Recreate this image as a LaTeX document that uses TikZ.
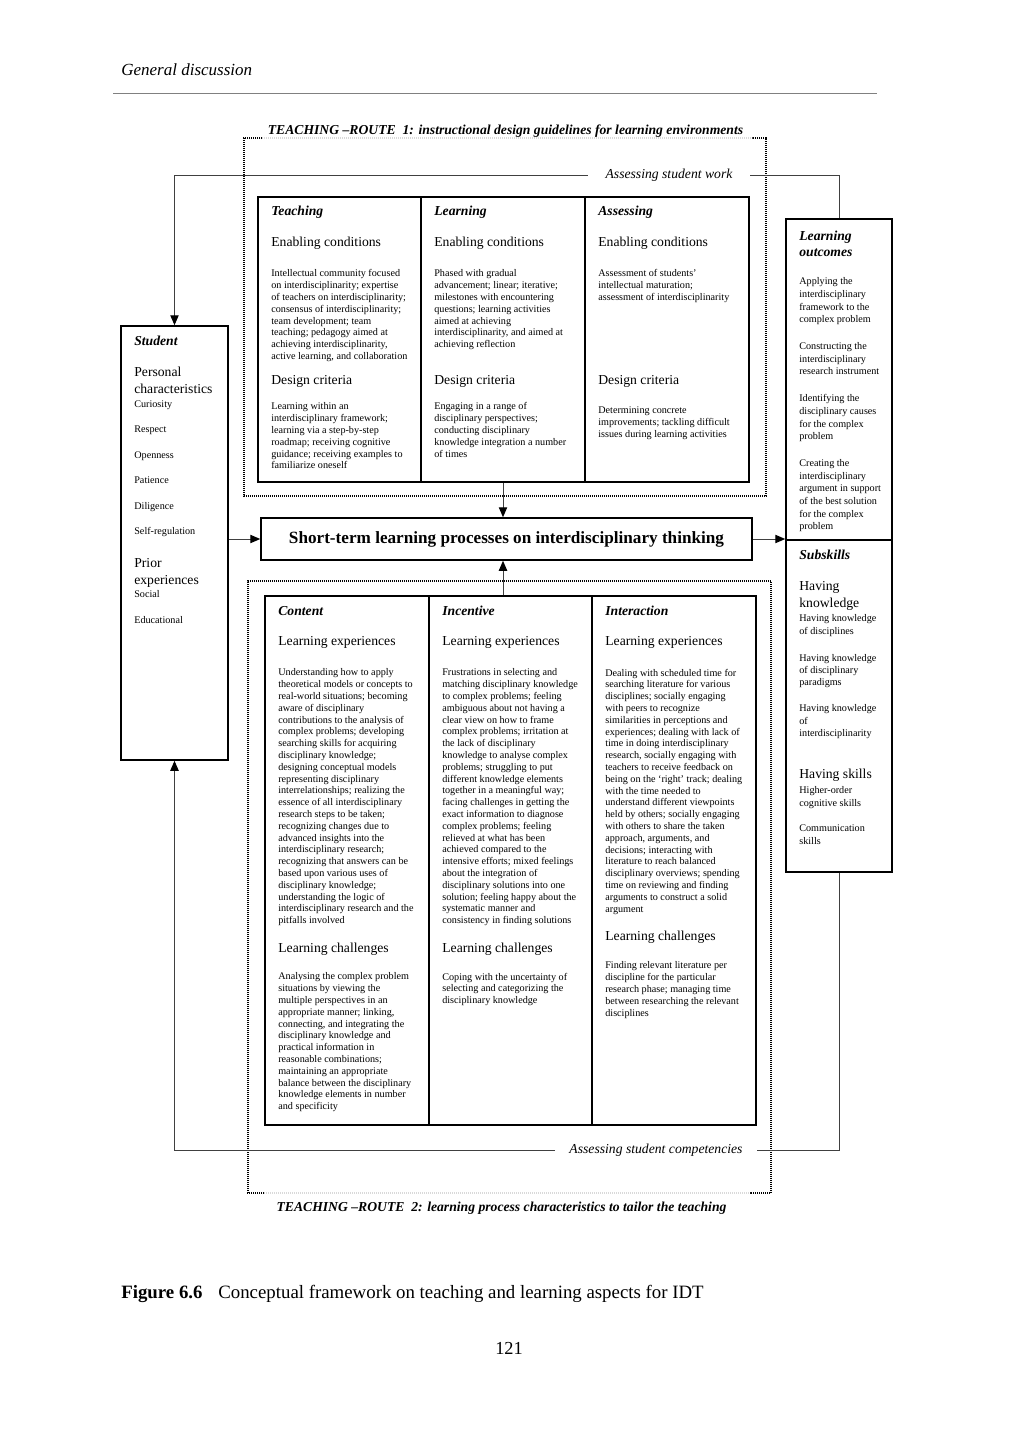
\documentclass[tikz,border=0pt]{standalone}
\usepackage{fontspec}
\setmainfont{Liberation Serif}
\usetikzlibrary{arrows.meta,fit}
\newcommand\fbody{\fontsize{6.1}{7.08}\selectfont}
\newcommand\fhead{\fontsize{8.2}{10.2}\selectfont}
\begin{document}
\begin{tikzpicture}[x=0.6pt,y=-0.6pt,
  bx/.style={draw, line width=0.9pt, inner sep=0pt},
  conn/.style={draw=black!75, line width=0.6pt},
  arr/.style={-{Triangle[length=6pt,width=5pt,color=black]}},
  ttl/.style={font=\fhead\bfseries\itshape, inner sep=0pt, anchor=west},
  hd/.style={font=\fhead, inner sep=0pt, anchor=west},
  bd/.style={font=\fbody, inner sep=0pt, anchor=north west, align=left},
  dots/.style={line width=0.7pt, dash pattern=on 0.6pt off 0.6pt},
  faint/.style={dots, draw=black!15},
  lbl/.style={font=\fhead\itshape, fill=white, inner ysep=2pt},
]
\useasboundingbox (0,0) rectangle (1018,1440);

% page header
\node[font=\fontsize{10.2}{12}\selectfont\itshape, inner sep=0pt, anchor=west] (hdr) at (121,70) {General discussion};
\draw[black!50, line width=0.5pt] (113,93) -- (877,93);

% dotted route frames
\draw[dots] (262,138) -- (244,138) -- (244,496) -- (766,496) -- (766,138) -- (752,138);
\draw[faint] (262,138) -- (752,138);
\draw[dots] (264,1193) -- (248,1193) -- (248,581) -- (771,581) -- (771,1193) -- (750,1193);
\draw[faint] (264,1193) -- (750,1193);
\node[font=\fhead\bfseries\itshape, inner sep=0pt] (r1) at (505.5,131) {TEACHING –ROUTE\ \ 1: instructional design guidelines for learning environments};
\node[font=\fhead\bfseries\itshape, inner sep=0pt] (r2) at (501.5,1208) {TEACHING –ROUTE\ \ 2: learning process characteristics to tailor the teaching};

% top columns
\node[bx, fit={(258,197) (421,482)}] (tc1) {};
\node[bx, fit={(421,197) (585,482)}] (tc2) {};
\node[bx, fit={(585,197) (749,482)}] (tc3) {};

\node[ttl] (t1t) at (271,212) {Teaching};
\node[hd] (t1h1) at (271,243) {Enabling conditions};
\node[bd] (t1b1) at (271,269.5) {Intellectual community focused\\on interdisciplinarity; expertise\\of teachers on interdisciplinarity;\\consensus of interdisciplinarity;\\team development; team\\teaching; pedagogy aimed at\\achieving interdisciplinarity,\\active learning, and collaboration};
\node[hd] (t1h2) at (271,381) {Design criteria};
\node[bd] (t1b2) at (271,402.5) {Learning within an\\interdisciplinary framework;\\learning via a step-by-step\\roadmap; receiving cognitive\\guidance; receiving examples to\\familiarize oneself};

\node[ttl] (t2t) at (434,212) {Learning};
\node[hd] (t2h1) at (434,243) {Enabling conditions};
\node[bd] (t2b1) at (434,269.5) {Phased with gradual\\advancement; linear; iterative;\\milestones with encountering\\questions; learning activities\\aimed at achieving\\interdisciplinarity, and aimed at\\achieving reflection};
\node[hd] (t2h2) at (434,381) {Design criteria};
\node[bd] (t2b2) at (434,402.5) {Engaging in a range of\\disciplinary perspectives;\\conducting disciplinary\\knowledge integration a number\\of times};

\node[ttl] (t3t) at (598,212) {Assessing};
\node[hd] (t3h1) at (598,243) {Enabling conditions};
\node[bd] (t3b1) at (598,269.5) {Assessment of students’\\intellectual maturation;\\assessment of interdisciplinarity};
\node[hd] (t3h2) at (598,381) {Design criteria};
\node[bd] (t3b2) at (598,406.5) {Determining concrete\\improvements; tackling difficult\\issues during learning activities};

% central process box
\node[bx, fit={(261,518) (752,560)}] (cen) {};
\node[font=\fontsize{10.3}{12}\selectfont\bfseries, inner sep=0pt] (cent) at (cen.center) {Short-term learning processes on interdisciplinary thinking};

% student box
\node[bx, fit={(121,326) (228,760)}] (stud) {};
\node[ttl] (st1) at (134,341) {Student};
\node[font=\fontsize{8.2}{10.2}\selectfont, inner sep=0pt, anchor=north west, align=left] (st2) at (134,367) {Personal\\characteristics};
\node[font=\fontsize{6.1}{15.25}\selectfont, inner sep=0pt, anchor=north west, align=left] (st3) at (134,400.5) {Curiosity\\Respect\\Openness\\Patience\\Diligence\\Self-regulation};
\node[font=\fontsize{8.2}{10}\selectfont, inner sep=0pt, anchor=north west, align=left] (st4) at (134,558) {Prior\\experiences};
\node[font=\fontsize{6.1}{15.6}\selectfont, inner sep=0pt, anchor=north west, align=left] (st5) at (134,590.5) {Social\\Educational};

% outcomes box
\node[bx, fit={(786,219) (892,540)}] (lo) {};
\node[bx, fit={(786,540) (892,872)}] (sub) {};
\node[font=\fontsize{8.2}{9.6}\selectfont\bfseries\itshape, inner sep=0pt, anchor=north west, align=left] (lo1) at (799,231) {Learning\\outcomes};
\node[font=\fontsize{6.1}{7.56}\selectfont, inner sep=0pt, anchor=north west, align=left] (lo2) at (799,277.5) {Applying the\\interdisciplinary\\framework to the\\complex problem\\[8.64pt]Constructing the\\interdisciplinary\\research instrument\\[8.64pt]Identifying the\\disciplinary causes\\for the complex\\problem\\[8.64pt]Creating the\\interdisciplinary\\argument in support\\of the best solution\\for the complex\\problem};
\node[ttl] (sb1) at (799,555) {Subskills};
\node[font=\fontsize{8.2}{10.2}\selectfont, inner sep=0pt, anchor=north west, align=left] (sb2) at (799,581) {Having\\knowledge};
\node[font=\fontsize{6.1}{7.45}\selectfont, inner sep=0pt, anchor=north west, align=left] (sb3) at (799,614.5) {Having knowledge\\of disciplines\\[8.6pt]Having knowledge\\of disciplinary\\paradigms\\[8.2pt]Having knowledge\\of\\interdisciplinarity};
\node[hd] (sb4) at (799,775) {Having skills};
\node[font=\fontsize{6.1}{7.8}\selectfont, inner sep=0pt, anchor=north west, align=left] (sb5) at (799,786.5) {Higher-order\\cognitive skills\\[7.2pt]Communication\\skills};

% bottom columns
\node[bx, fit={(265,596) (429,1125)}] (bc1) {};
\node[bx, fit={(429,596) (592,1125)}] (bc2) {};
\node[bx, fit={(592,596) (756,1125)}] (bc3) {};

\node[ttl] (b1t) at (278,611) {Content};
\node[hd] (b1h1) at (278,642) {Learning experiences};
\node[bd] (b1b1) at (278,668.5) {Understanding how to apply\\theoretical models or concepts to\\real-world situations; becoming\\aware of disciplinary\\contributions to the analysis of\\complex problems; developing\\searching skills for acquiring\\disciplinary knowledge;\\designing conceptual models\\representing disciplinary\\interrelationships; realizing the\\essence of all interdisciplinary\\research steps to be taken;\\recognizing changes due to\\advanced insights into the\\interdisciplinary research;\\recognizing that answers can be\\based upon various uses of\\disciplinary knowledge;\\understanding the logic of\\interdisciplinary research and the\\pitfalls involved};
\node[hd] (b1h2) at (278,949) {Learning challenges};
\node[bd] (b1b2) at (278,972.5) {Analysing the complex problem\\situations by viewing the\\multiple perspectives in an\\appropriate manner; linking,\\connecting, and integrating the\\disciplinary knowledge and\\practical information in\\reasonable combinations;\\maintaining an appropriate\\balance between the disciplinary\\knowledge elements in number\\and specificity};

\node[ttl] (b2t) at (442,611) {Incentive};
\node[hd] (b2h1) at (442,642) {Learning experiences};
\node[bd] (b2b1) at (442,668.5) {Frustrations in selecting and\\matching disciplinary knowledge\\to complex problems; feeling\\ambiguous about not having a\\clear view on how to frame\\complex problems; irritation at\\the lack of disciplinary\\knowledge to analyse complex\\problems; struggling to put\\different knowledge elements\\together in a meaningful way;\\facing challenges in getting the\\exact information to diagnose\\complex problems; feeling\\relieved at what has been\\achieved compared to the\\intensive efforts; mixed feelings\\about the integration of\\disciplinary solutions into one\\solution; feeling happy about the\\systematic manner and\\consistency in finding solutions};
\node[hd] (b2h2) at (442,949) {Learning challenges};
\node[bd] (b2b2) at (442,972.5) {Coping with the uncertainty of\\selecting and categorizing the\\disciplinary knowledge};

\node[ttl] (b3t) at (605,611) {Interaction};
\node[hd] (b3h1) at (605,642) {Learning experiences};
\node[bd] (b3b1) at (605,668.5) {Dealing with scheduled time for\\searching literature for various\\disciplines; socially engaging\\with peers to recognize\\similarities in perceptions and\\experiences; dealing with lack of\\time in doing interdisciplinary\\research, socially engaging with\\teachers to receive feedback on\\being on the ‘right’ track; dealing\\with the time needed to\\understand different viewpoints\\held by others; socially engaging\\with others to share the taken\\approach, arguments, and\\decisions; interacting with\\literature to reach balanced\\disciplinary overviews; spending\\time on reviewing and finding\\arguments to construct a solid\\argument};
\node[hd] (b3h2) at (605,937) {Learning challenges};
\node[bd] (b3b2) at (605,961.5) {Finding relevant literature per\\discipline for the particular\\research phase; managing time\\between researching the relevant\\disciplines};

% feedback labels
\node[lbl, inner xsep=10.5pt] (asw) at (669,175) {Assessing student work};
\node[lbl, inner xsep=8.4pt] (asc) at (656,1150) {Assessing student competencies};

% connectors
\draw[conn] (lo.north) |- (asw.east);
\draw[conn, arr] (asw.west) -| (stud.north);
\draw[conn] (sub.south) |- (asc.east);
\draw[conn, arr] (asc.west) -| (stud.south);
\draw[conn, arr] (tc2.south) -- (tc2.south |- cen.north);
\draw[conn, arr] (tc2.south |- bc2.north) -- (tc2.south |- cen.south);
\draw[conn, arr] (stud.east |- cen.west) -- (cen.west);
\draw[conn, arr] (cen.east) -- (cen.east -| lo.west);

% caption and page number
\node[font=\fontsize{11.3}{13}\selectfont\bfseries, inner sep=0pt, anchor=west] (capn) at (121,1294) {Figure 6.6};
\node[font=\fontsize{11.3}{13}\selectfont, inner sep=0pt, anchor=west] (capt) at (218,1294) {Conceptual framework on teaching and learning aspects for IDT};
\node[font=\fontsize{11}{13}\selectfont, inner sep=0pt] (pg) at (509,1348) {121};
\end{tikzpicture}
\end{document}
